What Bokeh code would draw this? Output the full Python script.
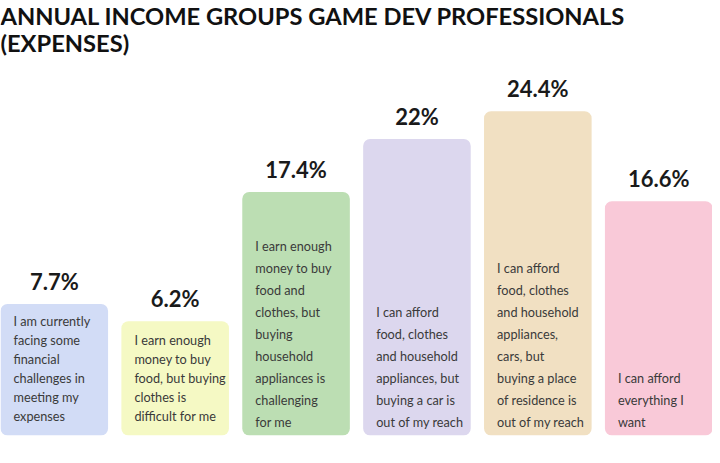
from bokeh.plotting import figure
from bokeh.models import ColumnDataSource, Range1d, Label
from bokeh.core.properties import value
from bokeh.embed import file_html
from bokeh.resources import INLINE

# data
shares = [7.7, 6.2, 17.4, 22.0, 24.4, 16.6]
share_labels = ["7.7%", "6.2%", "17.4%", "22%", "24.4%", "16.6%"]
groups = [
    "I am currently\nfacing some\nfinancial\nchallenges in\nmeeting my\nexpenses",
    "I earn enough\nmoney to buy\nfood, but buying\nclothes is\ndifficult for me",
    "I earn enough\nmoney to buy\nfood and\nclothes, but\nbuying\nhousehold\nappliances is\nchallenging\nfor me",
    "I can afford\nfood, clothes\nand household\nappliances, but\nbuying a car is\nout of my reach",
    "I can afford\nfood, clothes\nand household\nappliances,\ncars, but\nbuying a place\nof residence is\nout of my reach",
    "I can afford\neverything I\nwant",
]
colors = ["#d2dcf6", "#f5f9c4", "#bcdeb3", "#dcd7ee", "#f1e0c2", "#f9c9d8"]
line_heights = [1.19, 1.19, 1.38, 1.38, 1.38, 1.38]
text_shift = [-11, -11, -5, -5, -5, -5]

# bars start a bit below zero so the short ones still hold their text
BASE = -3.7
BAR_W = 0.89

pos = list(range(len(shares)))
source = ColumnDataSource(data=dict(
    x=pos,
    top=shares,
    label=share_labels,
    desc=groups,
    color=colors,
    left=[i - BAR_W / 2 for i in pos],
    base=[BASE] * len(pos),
    lh=line_heights,
    dy=text_shift,
))

p = figure(
    width=712, height=455,
    x_range=Range1d(-BAR_W / 2, len(pos) - 1 + BAR_W / 2),
    y_range=Range1d(BASE, 34.0),
    x_axis_type=None, y_axis_type=None,
    toolbar_location=None,
    output_backend="svg",
    min_border_left=0, min_border_right=0,
    min_border_top=0, min_border_bottom=20,
)
p.outline_line_color = None
p.grid.visible = False

p.vbar(x="x", top="top", bottom=BASE, width=BAR_W, source=source,
       fill_color="color", line_color=None, border_radius=7)

p.text(x="x", y="top", text="label", source=source,
       text_align="center", text_baseline="bottom", y_offset=-9,
       text_font=value("Lato"), text_font_style="bold",
       text_font_size="22px", text_color="#1a1a1a")

p.text(x="left", y="base", text="desc", source=source,
       text_align="left", text_baseline="bottom", x_offset=13, y_offset="dy",
       text_line_height="lh",
       text_font=value("Lato"), text_font_size="12.7px", text_color="#3a3a3a")

for txt, yy in [("ANNUAL INCOME GROUPS GAME DEV PROFESSIONALS", 420),
                ("(EXPENSES)", 393)]:
    p.add_layout(Label(x=0, y=yy, x_units="screen", y_units="screen", text=txt,
                       text_font="Lato", text_font_style="bold",
                       text_font_size="23.7px", text_color="#111111",
                       text_baseline="alphabetic"))

open("out.html", "w").write(file_html(p, INLINE))
